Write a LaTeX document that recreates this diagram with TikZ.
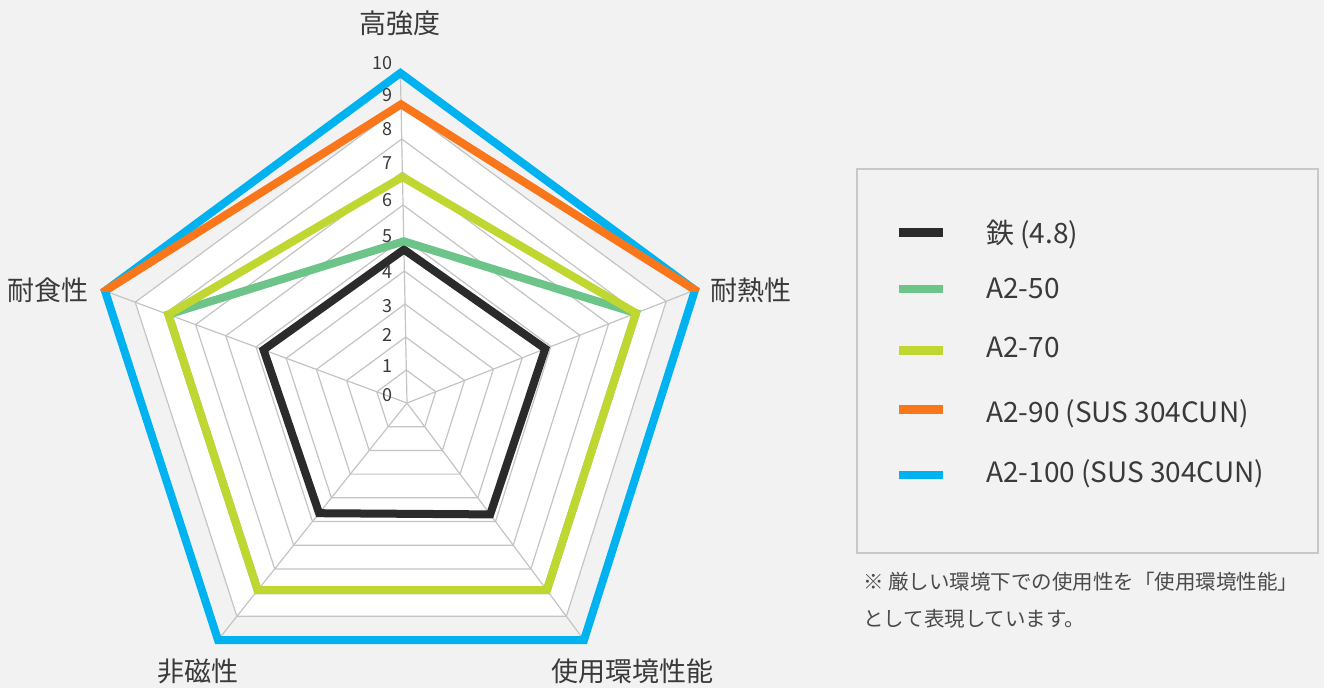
\documentclass[tikz,border=0pt]{standalone}
\usepackage{fontspec}
\setmainfont{Noto Sans CJK JP}
\usetikzlibrary{calc}
\definecolor{bg}{HTML}{F2F2F2}
\definecolor{gridc}{HTML}{C4C4C4}
\definecolor{legb}{HTML}{C8C8C8}
\definecolor{txt}{HTML}{3A3A3A}
\definecolor{notec}{HTML}{4A4A4A}
\definecolor{ironc}{HTML}{2B2B2B}
\definecolor{aFifty}{HTML}{6CC489}
\definecolor{aSeventy}{HTML}{C0D731}
\definecolor{aNinety}{HTML}{F9761B}
\definecolor{aHundred}{HTML}{00B3F0}
\newcommand\pent[5]{($(O)+#1*(a0)$) -- ($(O)+#2*(a1)$) -- ($(O)+#3*(a2)$) -- ($(O)+#4*(a3)$) -- ($(O)+#5*(a4)$) -- cycle}
\begin{document}
\begin{tikzpicture}[x=1pt,y=-1pt,
  gridline/.style={draw=gridc,line width=1.2pt},
  series/.style={line width=8pt,line join=miter,miter limit=10},
  lab/.style={font=\fontsize{27}{31}\selectfont,text=txt,inner sep=0pt},
  tick/.style={font=\fontsize{18}{20}\selectfont,text=txt,inner sep=0pt,anchor=east},
  legline/.style={line width=8.5pt},
  legtext/.style={font=\fontsize{28}{32}\selectfont,text=txt,inner sep=0pt,anchor=base west},
  note/.style={font=\fontsize{20.5}{24}\selectfont,text=notec,inner sep=0pt,anchor=west}]
\useasboundingbox (0,0) rectangle (1324,688);
\fill[bg] (0,0) rectangle (1324,688);
\coordinate (O) at (407,403);
\coordinate (a0) at (-0.66,-33);
\coordinate (a1) at (28.8,-11.3);
\coordinate (a2) at (17.7,23.7);
\coordinate (a3) at (-18.9,23.7);
\coordinate (a4) at (-30.2,-11.2);
% grid
\fill[white] \pent{9}{9}{9}{9}{9};
\foreach \k in {1,...,10} \draw[gridline] \pent{\k}{\k}{\k}{\k}{\k};
\foreach \i in {0,...,4} \draw[gridline] (O) -- ($(O)+10*(a\i)$);
% series
\draw[series,aHundred] \pent{10}{10}{10}{10}{10};
\begin{scope}
  \clip (0,0) rectangle (1324,291);
  \draw[series,aNinety] \pent{9.05}{10}{10}{10}{10};
\end{scope}
\draw[series,ironc] \pent{4.65}{4.8}{4.7}{4.65}{4.75};
\draw[series,aFifty] \pent{4.9}{7.95}{7.9}{7.9}{7.9};
\draw[series,aSeventy] \pent{6.85}{7.95}{7.9}{7.9}{7.9};
% tick labels
\foreach \v/\yy in {10/63,9/95,8/129.5,7/163.5,6/200.5,5/236,4/272,3/306,2/335,1/366,0/395}
  \node[tick] (t\v) at (393,\yy) {\v};
% axis labels
\node[lab] (ax0) at (400,23) {高強度};
\node[lab] (ax1) at (751,290) {耐熱性};
\node[lab] (ax2) at (632,671.5) {使用環境性能};
\node[lab] (ax3) at (197.5,671.5) {非磁性};
\node[lab] (ax4) at (48,290) {耐食性};
% legend
\node[draw=legb,line width=1.5pt,fill=bg,minimum width=461pt,minimum height=384pt,inner sep=0pt,anchor=north west] (legend) at (856,168) {};
\foreach \c/\sy/\by/\t [count=\n] in {ironc/232.5/243/{鉄 (4.8)},aFifty/289/298/{A2-50},aSeventy/350.5/357/{A2-70},aNinety/409.5/422/{A2-90 (SUS 304CUN)},aHundred/475/482/{A2-100 (SUS 304CUN)}}{
  \coordinate (ls\n) at (899,\sy);
  \coordinate (le\n) at (943,\sy);
  \draw[legline,\c] (ls\n) -- (le\n);
  \node[legtext] (lt\n) at (986,\by) {\t};
}
% note
\node[note] (note1) at (863,582) {※ 厳しい環境下での使用性を「使用環境性能」};
\node[note] (note2) at (863,619) {として表現しています。};
\end{tikzpicture}
\end{document}
